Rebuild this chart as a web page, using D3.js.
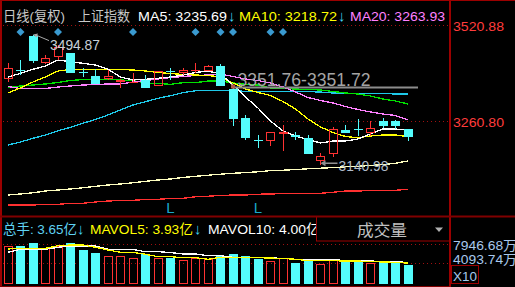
<!DOCTYPE html>
<html><head><meta charset="utf-8">
<script src="https://cdn.jsdelivr.net/npm/d3@7/dist/d3.min.js"></script>
<style>
html,body{margin:0;padding:0;background:#000;overflow:hidden}
svg{display:block}
text{font-family:"Liberation Sans","Noto Sans CJK SC",sans-serif}
</style></head><body><svg id="c" width="515" height="287"></svg>
<script>
// ---------- data ----------
const days = ["1","2","3","4","5","6","7","8","9","10","11","12","13","14","15","16","17","18","19","20","21","22","23","24","25","26","27","28","29","30","31","32","33"];
const open  = [3374.6,3399.0,3491.1,3417.1,3433.4,3443.7,3393.6,3382.7,3373.8,3366.5,3366.5,3371.9,3356.4,3397.6,3391.7,3398.2,3396.3,3409.8,3347.5,3269.7,3210.1,3207.4,3224.8,3222.9,3213.9,3153.3,3171.4,3236.4,3239.1,3229.1,3261.6,3261.6,3238.3];
const close = [3403.6,3397.1,3424.2,3430.7,3462.6,3391.7,3391.7,3361.0,3382.7,3371.9,3367.8,3351.0,3396.3,3396.3,3399.0,3399.0,3409.8,3356.4,3266.2,3215.6,3209.3,3231.8,3231.8,3216.6,3171.4,3166.0,3238.3,3229.1,3237.8,3241.0,3248.1,3248.1,3216.6];
const high  = [3417.1,3426.1,3494.87,3439.6,3466.7,3445.0,3403.6,3400.9,3400.3,3374.6,3390.8,3385.4,3396.3,3405.2,3403.6,3417.1,3412.5,3415.2,3354.3,3277.1,3222.9,3231.8,3250.0,3231.8,3222.9,3174.9,3245.4,3250.0,3265.4,3261.6,3268.1,3263.5,3238.5];
const low   = [3367.3,3385.4,3417.9,3416.5,3426.1,3390.8,3379.2,3360.5,3371.9,3348.9,3363.8,3350.2,3356.0,3371.9,3384.1,3390.0,3396.0,3356.0,3247.3,3209.3,3188.5,3193.9,3180.3,3209.3,3171.0,3140.98,3162.5,3228.3,3220.2,3220.2,3241.0,3238.3,3207.4];
const volume = [7.46,7.46,8.04,7.00,7.46,8.04,6.73,6.08,5.49,5.49,5.04,5.83,5.04,5.16,4.71,5.04,4.85,5.49,5.89,5.49,4.85,4.57,5.04,4.18,4.57,3.92,4.85,4.38,4.38,4.18,4.38,4.18,3.65]; // 亿手

const ma5   = [3380.00,3390.03,3400.86,3409.80,3426.06,3421.45,3417.12,3412.51,3400.86,3380.00,3371.88,3373.77,3376.48,3380.00,3385.42,3392.20,3396.26,3388.13,3358.33,3325.82,3296.02,3260.80,3233.71,3220.16,3210.68,3201.20,3206.62,3206.62,3212.04,3225.58,3239.13,3239.13,3235.69];
const ma10  = [3336.66,3350.20,3366.46,3380.00,3396.26,3400.32,3400.32,3400.32,3400.32,3400.32,3398.97,3396.26,3392.20,3389.49,3386.78,3385.42,3384.07,3380.00,3363.75,3347.49,3338.01,3329.88,3313.63,3293.31,3266.22,3244.55,3229.64,3218.81,3215.56,3220.16,3222.87,3222.87,3218.72];
const ma20  = [3354.27,3348.85,3348.85,3348.85,3352.91,3355.62,3358.33,3359.69,3361.04,3361.04,3366.46,3370.52,3374.59,3378.65,3381.36,3384.07,3385.42,3388.13,3381.36,3374.59,3370.52,3363.75,3352.91,3339.37,3324.47,3316.34,3309.57,3300.08,3291.96,3285.18,3279.76,3275.70,3263.93];
const ma30  = [3351.56,3355.62,3358.33,3361.04,3365.10,3370.52,3373.23,3373.77,3373.23,3371.88,3370.52,3363.75,3362.39,3360.23,3364.56,3364.56,3369.17,3369.17,3363.75,3360.23,3358.33,3350.20,3348.85,3347.49,3346.14,3344.78,3340.72,3336.66,3333.95,3328.53,3320.40,3314.98,3306.86];
const ma60  = [3195.78,3203.91,3213.93,3222.87,3234.52,3243.73,3254.57,3265.41,3277.06,3290.60,3304.15,3313.09,3322.30,3329.34,3337.47,3342.89,3344.24,3344.24,3344.24,3340.72,3340.18,3340.18,3340.18,3340.18,3340.18,3339.37,3336.66,3335.84,3335.84,3335.84,3335.30,3333.95,3333.95];
const ma120 = [3060.32,3063.03,3066.28,3071.16,3073.87,3076.58,3080.10,3083.89,3087.41,3090.12,3093.64,3097.44,3100.96,3103.67,3107.73,3110.98,3113.96,3116.67,3119.11,3121.01,3123.17,3126.43,3127.51,3129.13,3131.30,3132.93,3134.55,3136.72,3138.08,3140.24,3142.68,3146.47,3152.43];
const ma250 = [3033.23,3033.23,3033.23,3035.12,3035.12,3037.82,3037.82,3041.36,3044.07,3045.42,3045.96,3048.13,3048.67,3050.84,3051.38,3055.44,3057.07,3058.97,3060.32,3060.32,3062.49,3063.03,3064.11,3064.93,3064.93,3064.93,3067.64,3071.16,3071.16,3072.51,3073.06,3073.06,3075.76];
const mavol5  = [6.87,7.00,7.00,7.00,7.51,7.65,7.65,7.20,6.67,6.22,6.22,5.83,5.36,5.36,5.16,5.16,4.85,5.24,5.24,5.24,5.16,5.10,5.00,4.85,4.57,4.57,4.57,4.51,4.51,4.41,4.32,4.26,4.10];
const mavol10 = [6.22,6.81,6.81,6.81,7.20,7.46,7.46,7.46,6.81,6.81,6.77,6.34,6.34,6.18,5.89,5.89,5.55,5.55,5.24,5.24,5.16,5.16,5.00,4.85,4.81,4.81,4.71,4.65,4.57,4.51,4.41,4.32,4.26];

const priceTicks = [3520.88, 3260.80];
const volTicks = [7.94668, 4.09374];
const signalDays = ["2","5","11","16","18","19","22","23"];
const markDays = ["14","21"];
const maxPrice = 3494.87, maxDay = "3";
const minPrice = 3140.98, minDay = "26";
const rangeLabel = "3351.76-3351.72", rangePrice = 3351.76, rangeDay = "19";

const topLegend = [
  {t:"日线(复权)", c:"#c8c8c8", x:3,   w:62},
  {t:"上证指数",   c:"#c8c8c8", x:78,  w:52},
  {t:"MA5: 3235.69", c:"#ffffff", x:138, w:89},
  {t:"↓", c:"#3fd0f0", x:228, a:1},
  {t:"MA10: 3218.72", c:"#ffff00", x:239, w:98},
  {t:"↓", c:"#3fd0f0", x:338, a:1},
  {t:"MA20: 3263.93", c:"#ff80ff", x:350, w:95}
];
const volLegend = [
  {t:"总手: 3.65亿", c:"#5fd3f3", x:3, w:74},
  {t:"↓", c:"#3fd0f0", x:77, a:1},
  {t:"MAVOL5: 3.93亿", c:"#ffff00", x:90, w:103},
  {t:"↓", c:"#3fd0f0", x:194, a:1},
  {t:"MAVOL10: 4.00亿", c:"#ffffff", x:208, w:112}
];

// ---------- drawing ----------
const W = 515, H = 287;
const RED = "#ff3232", CYAN = "#54fcfc", BORDER = "#9b0000";
const svg = d3.select("#c");
svg.append("rect").attr("width", W).attr("height", H).attr("fill", "#000");

const x = d3.scalePoint().domain(days).range([8, 408]);
const y = d3.scaleLinear().domain([3260.80, 3520.88]).range([121, 25]);
const yv = d3.scaleLinear().domain([0, 7.94668]).range([284, 243.5]);

const defs = svg.append("defs");
defs.append("clipPath").attr("id", "cm").append("rect").attr("x", 2).attr("y", 1).attr("width", 447).attr("height", 214);
defs.append("clipPath").attr("id", "cv").append("rect").attr("x", 2).attr("y", 217).attr("width", 447).attr("height", 68);

// grid dotted lines
const gm = svg.append("g");
gm.selectAll("line.pg").data(priceTicks).join("line")
  .attr("x1", 3).attr("x2", 449).attr("y1", d => Math.round(y(d)) + 0.5).attr("y2", d => Math.round(y(d)) + 0.5)
  .attr("stroke", "#a01010").attr("stroke-dasharray", "1,3");
gm.selectAll("line.vg").data(volTicks).join("line")
  .attr("x1", 3).attr("x2", 449).attr("y1", d => Math.round(yv(d)) + 0.5).attr("y2", d => Math.round(yv(d)) + 0.5)
  .attr("stroke", "#a01010").attr("stroke-dasharray", "1,3");

// MA lines
const main = svg.append("g").attr("clip-path", "url(#cm)");
const line = d3.line().x((d, i) => x(days[i])).y(d => y(d));
[[ma250, "#ff3030"], [ma120, "#ffffc0"], [ma60, "#1ec8e8"], [ma30, "#00e000"], [ma20, "#ff80ff"], [ma10, "#ffff00"], [ma5, "#ffffff"]]
  .forEach(([arr, col]) => {
    main.append("path").datum(arr).attr("d", line).attr("fill", "none")
      .attr("stroke", col).attr("stroke-width", 1.3).attr("shape-rendering", "crispEdges");
  });

// candles
const cw = 9;
const candles = days.map((d, i) => ({d, o: open[i], c: close[i], h: high[i], l: low[i]}));
const cg = main.append("g");
candles.forEach(k => {
  const px = Math.round(x(k.d) - cw / 2);
  const cx = px + 4.5;
  const up = k.c >= k.o;
  const col = up ? RED : CYAN;
  const yt = Math.round(y(Math.max(k.o, k.c)));
  const yb = Math.round(y(Math.min(k.o, k.c)));
  const yh = Math.round(y(k.h)), yl = Math.round(y(k.l));
  if (up) {
    if (yh < yt) cg.append("line").attr("x1", cx).attr("x2", cx).attr("y1", yh).attr("y2", yt).attr("stroke", col);
    if (yl > yb) cg.append("line").attr("x1", cx).attr("x2", cx).attr("y1", yb).attr("y2", yl).attr("stroke", col);
    if (yb - yt >= 2) {
      cg.append("rect").attr("x", px + 0.5).attr("y", yt + 0.5).attr("width", cw - 1).attr("height", yb - yt - 1)
        .attr("fill", "none").attr("stroke", col);
    } else {
      cg.append("line").attr("x1", px).attr("x2", px + cw).attr("y1", yt + 0.5).attr("y2", yt + 0.5).attr("stroke", col);
    }
  } else {
    cg.append("line").attr("x1", cx).attr("x2", cx).attr("y1", yh).attr("y2", yl).attr("stroke", col);
    if (yb - yt >= 2) {
      cg.append("rect").attr("x", px).attr("y", yt).attr("width", cw).attr("height", yb - yt).attr("fill", col);
    } else {
      cg.append("line").attr("x1", px).attr("x2", px + cw).attr("y1", yt + 0.5).attr("y2", yt + 0.5).attr("stroke", col);
    }
  }
});

// range line + label
const ry = y(rangePrice);
main.append("line").attr("x1", x(rangeDay) - 1).attr("x2", 418).attr("y1", ry).attr("y2", ry)
  .attr("stroke", "#8c8c8c").attr("stroke-width", 2);
main.append("rect").attr("x", x(rangeDay) - 2).attr("y", ry - 3).attr("width", 4).attr("height", 4).attr("fill", "#b05a4a");
main.append("text").attr("x", x(rangeDay) + 4.5).attr("y", ry - 1).text(rangeLabel)
  .attr("fill", "#a4a4a4").style("font-size", "18px").attr("textLength", 133).attr("lengthAdjust", "spacingAndGlyphs");

// max label
const hx = x(maxDay), hy = y(maxPrice);
main.append("line").attr("x1", hx + 16).attr("y1", hy + 6).attr("x2", hx + 3).attr("y2", hy + 0.5)
  .attr("stroke", "#a8a8a8").attr("stroke-width", 1);
main.append("path").attr("d", `M${hx},${hy} L${hx + 5},${hy - 1} L${hx + 3.5},${hy + 3} Z`).attr("fill", "#a8a8a8");
main.append("text").attr("x", hx + 17).attr("y", hy + 15).text(maxPrice.toFixed(2))
  .attr("fill", "#c8d0d8").style("font-size", "14px").attr("textLength", 50).attr("lengthAdjust", "spacingAndGlyphs");

// min label
const lx = x(minDay), ly = y(minPrice);
main.append("line").attr("x1", lx + 17).attr("y1", ly - 2).attr("x2", lx + 4).attr("y2", ly - 2)
  .attr("stroke", "#909090").attr("stroke-width", 1.5);
main.append("path").attr("d", `M${lx},${ly - 2} L${lx + 5},${ly - 5} L${lx + 5},${ly + 1} Z`).attr("fill", "#909090");
main.append("text").attr("x", lx + 18).attr("y", ly + 5.5).text(minPrice.toFixed(2))
  .attr("fill", "#b0bccb").style("font-size", "15px").attr("textLength", 50).attr("lengthAdjust", "spacingAndGlyphs");

// signal diamonds
main.selectAll("path.dm").data(signalDays).join("path")
  .attr("d", d3.symbol(d3.symbolSquare, 32))
  .attr("transform", d => `translate(${x(d)},32) rotate(45)`)
  .attr("fill", "#3a9ad0");

// month marks
main.selectAll("text.mk").data(markDays).join("text")
  .attr("x", d => x(d)).attr("y", 212.5).attr("text-anchor", "middle").text("L")
  .attr("fill", "#1aa8cc").style("font-size", "15px");

// volume
const vol = svg.append("g").attr("clip-path", "url(#cv)");
days.forEach((d, i) => {
  const px = Math.round(x(d) - cw / 2);
  const up = close[i] >= open[i];
  const top = Math.round(yv(volume[i])), base = Math.round(yv(0));
  if (up) {
    vol.append("rect").attr("x", px + 0.5).attr("y", top + 0.5).attr("width", cw - 1).attr("height", base - top - 1)
      .attr("fill", "none").attr("stroke", RED);
  } else {
    vol.append("rect").attr("x", px).attr("y", top).attr("width", cw).attr("height", base - top).attr("fill", CYAN);
  }
});
const vline = d3.line().x((d, i) => x(days[i])).y(d => yv(d));
[[mavol10, "#ffffff"], [mavol5, "#ffff00"]].forEach(([arr, col]) => {
  vol.append("path").datum(arr).attr("d", vline).attr("fill", "none")
    .attr("stroke", col).attr("stroke-width", 1.3).attr("shape-rendering", "crispEdges");
});

// legends
function legend(items, yb) {
  const g = svg.append("g");
  items.forEach(it => {
    const t = g.append("text").attr("x", it.x).attr("y", yb).text(it.t).attr("fill", it.c)
      .style("font-size", it.a ? "15px" : "13.5px");
    if (it.w) t.attr("textLength", it.w).attr("lengthAdjust", "spacingAndGlyphs");
  });
}
legend(topLegend, 20.5);
legend(volLegend, 234);

// 成交量 box
svg.append("rect").attr("x", 316.5).attr("y", 216.5).attr("width", 133).attr("height", 24.5)
  .attr("fill", "#000").attr("stroke", BORDER);
svg.append("text").attr("x", 357).attr("y", 236).text("成交量").attr("fill", "#c0c0c0")
  .style("font-size", "16px").attr("textLength", 50).attr("lengthAdjust", "spacingAndGlyphs");
svg.append("path").attr("d", "M435,227.5 L443,227.5 L439,232 Z").attr("fill", "#b0b0b0");

// right axes
const ax = svg.append("g").attr("transform", "translate(451,0)")
  .call(d3.axisRight(y).tickValues(priceTicks).tickSize(0).tickPadding(2).tickFormat(d3.format(".2f")));
ax.select(".domain").remove();
ax.selectAll("text").attr("fill", "#ff3c3c").style("font-size", "13.5px")
  .style("font-family", '"Liberation Sans",sans-serif')
  .attr("textLength", 51).attr("lengthAdjust", "spacingAndGlyphs").attr("dy", "0.42em");

const avx = svg.append("g").attr("transform", "translate(451,0)")
  .call(d3.axisRight(yv).tickValues(volTicks).tickSize(0).tickPadding(2).tickFormat(d => (d * 1000).toFixed(2) + "万"));
avx.select(".domain").remove();
avx.selectAll("text").attr("fill", "#a8c8ec").style("font-size", "13px")
  .style("font-family", '"Liberation Sans","Noto Sans CJK SC",sans-serif')
  .attr("textLength", 64).attr("lengthAdjust", "spacingAndGlyphs")
  .attr("dy", (d, i) => i === 0 ? "0.45em" : "0.02em");

// X10 box
svg.append("rect").attr("x", 451.5).attr("y", 265.5).attr("width", 27).attr("height", 18)
  .attr("fill", "#000").attr("stroke", BORDER);
svg.append("text").attr("x", 453).attr("y", 280.5).text("X10").attr("fill", "#a8c8ec")
  .style("font-size", "13px").attr("textLength", 24).attr("lengthAdjust", "spacingAndGlyphs");

// frame
svg.append("rect").attr("x", 0).attr("y", 0).attr("width", W).attr("height", 1).attr("fill", BORDER);
svg.append("rect").attr("x", 0).attr("y", 0).attr("width", 2).attr("height", H).attr("fill", BORDER);
svg.append("rect").attr("x", 449).attr("y", 0).attr("width", 2).attr("height", H).attr("fill", BORDER);
svg.append("rect").attr("x", 0).attr("y", 215.5).attr("width", W).attr("height", 2).attr("fill", "#800000");
svg.append("rect").attr("x", 0).attr("y", 286).attr("width", 449).attr("height", 1).attr("fill", "#800000");
</script></body></html>
